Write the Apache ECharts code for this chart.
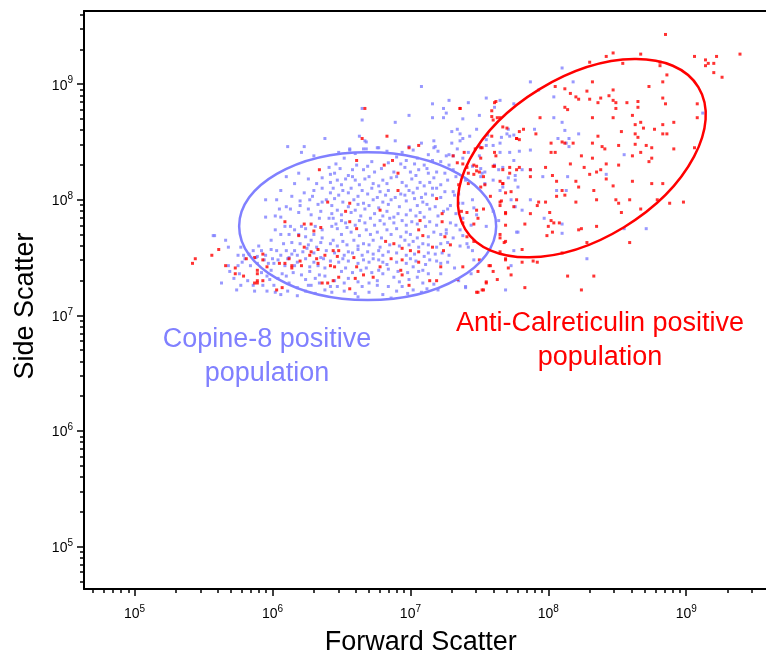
<!DOCTYPE html>
<html>
<head>
<meta charset="utf-8">
<title>Forward vs Side Scatter</title>
<script src="https://cdn.jsdelivr.net/npm/echarts@6/dist/echarts.min.js"></script>
<style>
  html, body { margin: 0; padding: 0; background: #fff; }
  #chart { width: 766px; height: 653px; }
</style>
</head>
<body>
<div id="chart"></div>
<script>
const decades = [5, 6, 7, 8, 9];
const axisMin = 4.633;
const axisMax = 9.633;

// [log10 FSC, log10 SSC]
const copinePoints = [
  [7.08,8.98],[6.65,8.79],[6.65,8.69],[6.99,8.73],[6.89,8.67],[7.16,8.83],[7.24,8.79],[7.26,8.75],[7.28,8.86],[7.42,8.84],
  [7.55,8.88],[7.65,8.86],[7.75,8.83],[7.16,8.71],[7.24,8.71],[7.38,8.70],[7.50,8.73],[7.61,8.80],[7.30,8.59],[7.34,8.61],
  [7.36,8.57],[7.38,8.53],[7.43,8.55],[7.48,8.61],[7.30,8.49],[7.36,8.51],[7.17,8.51],[7.08,8.49],[6.89,8.51],[6.63,8.55],
  [6.67,8.51],[6.66,8.44],[6.77,8.45],[6.56,8.44],[7.71,8.61],[7.75,8.56],[7.55,8.47],[7.17,8.45],
  [6.38,8.53],[7.56,8.56],[7.66,8.54],[7.70,8.57],[6.99,8.46],
  [7.50,8.46],[7.60,8.47],[7.65,8.41],[7.72,8.41],[7.75,8.34],[7.51,8.27],[7.54,8.24],[7.51,8.20],[7.60,8.17],[7.65,8.08],
  [7.76,8.17],[7.60,7.90],[7.64,7.82],[7.77,7.72],[7.55,7.77],[7.75,7.56],[7.73,7.43],[7.69,7.22],[7.41,7.62],[7.45,7.56],
  [8.10,9.14],[7.87,9.02],[7.93,8.95],[8.18,9.02],[8.04,8.89],[8.04,8.71],[8.10,8.67],[7.90,8.61],[8.12,8.60],[8.22,8.57],
  [8.07,8.53],[7.18,8.46],[7.55,8.52],[7.65,8.49],[7.72,8.55],[7.79,8.42],[7.87,8.43],[7.31,8.38],[7.26,8.38],[7.50,8.38],
  [7.61,8.30],[7.67,8.28],[7.64,8.26],[7.71,8.19],[7.76,8.21],[7.81,8.26],[7.87,8.26],[7.96,8.20],[8.14,8.20],[8.42,8.22],
  [8.55,8.39],[8.15,8.53],[7.67,8.11],[7.78,8.11],[7.73,8.00],[7.87,8.00],[7.81,7.91],[7.97,7.84],[8.10,7.79],[8.06,8.08],
  [8.13,8.08],[8.10,7.71],[8.55,7.75],[8.71,7.75],[8.28,7.49],[7.78,7.72],[7.31,8.07],[7.38,7.97],[7.36,7.74],[7.48,7.87],
  [7.42,7.59],[7.40,7.24],[9.12,8.75],[8.13,8.49],[7.16,8.10],[7.46,7.93],[7.38,7.69],[7.26,7.71],[7.23,7.54],[7.52,8.23],
  [7.54,8.14],[7.76,7.94],[8.15,8.46],
  [6.11,8.46],[6.23,8.46],[6.21,8.41],[6.30,8.38],[6.41,8.28],[6.42,8.22],[6.10,8.20],[6.32,8.14],[6.16,8.14],[6.23,8.06],
  [6.30,8.08],[6.36,8.10],[6.42,8.06],[6.29,8.03],[6.27,8.00],[6.36,7.98],[5.95,8.00],[6.03,8.00],[6.10,7.94],[6.13,7.92],
  [6.35,7.90],[5.95,7.85],[6.02,7.86],[6.06,7.85],[6.19,7.89],[6.28,7.87],[6.34,7.84],[6.41,7.84],[6.02,7.74],[6.09,7.77],
  [6.13,7.77],[6.16,7.74],[6.21,7.77],[6.24,7.75],[6.31,7.77],[6.36,7.74],[6.19,7.70],[6.24,7.68],[6.28,7.65],[6.14,7.63],
  [5.99,7.65],[6.20,7.62],[6.32,7.59],[6.42,7.62],[6.39,7.56],[5.58,7.69],[5.66,7.65],[5.68,7.59],[5.77,7.59],[5.86,7.56],
  [5.92,7.56],[5.99,7.57],[6.03,7.56],[6.10,7.56],[6.16,7.56],[6.25,7.58],[5.75,7.52],[5.80,7.49],[5.83,7.53],[5.88,7.50],
  [5.94,7.48],[6.00,7.49],[6.11,7.49],[6.18,7.52],[6.24,7.49],[6.35,7.50],[5.68,7.43],[5.75,7.43],[5.84,7.43],[6.01,7.45],
  [6.09,7.43],[6.16,7.43],[6.27,7.42],[6.33,7.43],[6.38,7.41],[5.69,7.38],[5.76,7.36],[5.92,7.37],[5.99,7.39],[6.07,7.36],
  [6.15,7.37],[6.21,7.35],[6.27,7.38],[6.34,7.35],[5.63,7.28],[5.77,7.26],[5.86,7.26],[5.93,7.26],[5.98,7.31],[6.01,7.26],
  [6.12,7.28],[6.18,7.24],[6.26,7.26],[6.34,7.28],[6.02,7.20],[6.11,7.21],[6.18,7.17],[6.31,7.19],[6.43,7.88],[6.43,7.77],
  [6.42,7.47],[6.42,7.25],[5.87,7.21],[6.43,7.20],[6.37,7.49],[6.12,7.50],[5.89,7.51],[6.28,7.26],[5.57,7.69],[5.79,7.52],
  [6.68,8.50],[6.68,8.44],[6.76,8.45],[6.56,8.43],[6.48,8.41],[6.94,8.41],[7.28,8.39],[7.34,8.44],[7.42,8.41],[6.61,8.30],
  [6.72,8.33],[6.93,8.31],[6.97,8.34],[7.05,8.36],[7.10,8.30],[7.16,8.34],[7.22,8.33],[7.28,8.30],[6.49,8.27],[6.45,8.23],
  [6.55,8.21],[6.66,8.26],[6.74,8.24],[6.88,8.24],[7.00,8.24],[7.06,8.26],[7.13,8.23],[7.19,8.24],[7.25,8.23],[6.47,8.17],
  [6.53,8.18],[6.60,8.17],[6.67,8.18],[6.73,8.14],[6.80,8.17],[6.86,8.19],[6.94,8.15],[7.01,8.18],[7.07,8.15],[7.14,8.15],
  [7.27,8.17],[6.44,8.10],[6.51,8.08],[6.57,8.10],[6.65,8.08],[6.72,8.10],[6.78,8.07],[6.84,8.08],[6.93,8.05],[6.99,8.08],
  [7.05,8.10],[7.11,8.05],[7.19,8.10],[7.25,8.07],[6.45,8.01],[6.51,7.98],[6.59,8.00],[6.66,7.97],[6.73,8.00],[6.80,7.98],
  [6.86,8.00],[6.97,7.99],[7.03,8.01],[7.09,7.98],[7.29,7.95],[6.47,7.91],[6.60,7.91],[6.67,7.92],[6.83,7.90],[6.91,7.88],
  [7.00,7.91],[7.07,7.89],[7.14,7.92],[7.24,7.90],[6.44,7.84],[6.50,7.82],[6.63,7.82],[6.71,7.84],[6.78,7.82],[6.85,7.84],
  [6.94,7.82],[7.01,7.81],[7.14,7.81],[7.29,7.80],[6.47,7.75],[6.54,7.76],[6.68,7.74],[6.76,7.72],[6.83,7.74],[6.90,7.75],
  [6.97,7.72],[7.17,7.72],[7.26,7.74],[6.44,7.65],[6.51,7.64],[6.59,7.65],[6.66,7.62],[6.73,7.65],[6.96,7.65],[7.02,7.64],
  [7.09,7.62],[7.22,7.62],[6.55,7.55],[6.62,7.57],[6.69,7.55],[6.77,7.56],[6.84,7.55],[7.13,7.54],[6.51,7.49],[6.66,7.48],
  [6.73,7.49],[6.80,7.46],[7.00,7.49],[7.14,7.48],[7.22,7.45],[6.53,7.41],[6.68,7.41],[6.84,7.40],[7.02,7.42],[7.09,7.39],
  [7.32,7.41],[6.55,7.32],[6.80,7.36],[6.88,7.33],[7.05,7.33],[6.47,7.25],[6.65,7.25],[6.76,7.26],[6.84,7.25],[6.94,7.25],
  [7.02,7.22],[7.12,7.23],[7.40,7.25],
  [6.52,8.36],[6.60,8.40],[6.83,8.42],[6.90,8.37],[7.02,8.43],[7.13,8.39],[7.20,8.42],[7.38,8.36],
  [6.46,8.31],[6.58,8.26],[6.69,8.29],[6.79,8.27],[6.84,8.32],[6.96,8.28],[7.03,8.31],[7.12,8.27],[7.31,8.26],[7.45,8.29],
  [6.42,8.15],[6.50,8.13],[6.58,8.20],[6.63,8.13],[6.70,8.20],[6.77,8.12],[6.83,8.14],[6.90,8.20],[6.97,8.12],[7.04,8.21],
  [7.10,8.12],[7.17,8.19],[7.22,8.13],[7.33,8.20],[7.40,8.17],
  [6.48,8.04],[6.55,8.06],[6.62,8.03],[6.69,8.05],[6.76,8.02],[6.82,8.04],[6.89,8.02],[6.96,8.04],[7.02,8.06],[7.08,8.02],
  [7.16,8.04],[7.22,8.02],[7.32,8.04],
  [6.43,7.95],[6.55,7.94],[6.62,7.96],[6.70,7.95],[6.77,7.93],[6.84,7.96],[6.92,7.94],[7.05,7.95],[7.12,7.96],[7.18,7.94],
  [7.27,7.92],[7.35,7.97],
  [6.50,7.87],[6.57,7.89],[6.64,7.86],[6.74,7.88],[6.80,7.86],[6.88,7.85],[6.97,7.87],[7.04,7.86],[7.10,7.85],[7.20,7.86],
  [7.33,7.88],
  [6.46,7.79],[6.53,7.80],[6.60,7.78],[6.67,7.80],[6.74,7.78],[6.81,7.79],[6.88,7.80],[6.97,7.78],[7.05,7.79],[7.11,7.77],
  [7.19,7.78],[7.33,7.78],
  [6.50,7.70],[6.57,7.72],[6.63,7.69],[6.71,7.70],[6.79,7.67],[6.86,7.70],[6.93,7.68],[7.00,7.70],[7.05,7.67],[7.13,7.68],
  [7.22,7.70],[7.31,7.67],
  [6.47,7.60],[6.54,7.61],[6.62,7.60],[6.70,7.61],[6.78,7.59],[6.85,7.61],[6.92,7.60],[6.99,7.61],[7.06,7.59],[7.13,7.61],
  [7.19,7.59],[7.27,7.63],
  [6.45,7.54],[6.52,7.52],[6.58,7.54],[6.65,7.52],[6.73,7.53],[6.80,7.52],[6.90,7.54],[6.97,7.52],[7.03,7.53],[7.10,7.51],
  [7.18,7.53],[7.28,7.52],
  [6.48,7.46],[6.55,7.47],[6.62,7.45],[6.70,7.46],[6.77,7.48],[6.83,7.44],[6.90,7.46],[6.97,7.45],[7.04,7.47],[7.11,7.44],
  [7.19,7.47],[7.27,7.46],
  [6.50,7.38],[6.58,7.37],[6.64,7.39],[6.72,7.37],[6.77,7.39],[6.91,7.38],[6.98,7.37],[7.06,7.38],[7.13,7.36],[7.22,7.36],
  [6.45,7.30],[6.52,7.28],[6.62,7.29],[6.70,7.28],[6.76,7.30],[6.92,7.29],[6.99,7.31],[7.09,7.28],[7.17,7.27],
  [6.52,7.21],[6.60,7.19],[6.70,7.20],[6.80,7.18],[6.90,7.21],[6.98,7.19],[7.08,7.20],[7.20,7.22],[6.62,7.16],[6.86,7.15],
  [6.05,7.92],[6.20,7.95],[6.26,7.92],[6.33,7.96],[6.39,8.00],[6.06,7.70],[6.12,7.70],[6.30,7.70],[6.36,7.67],[6.08,7.62],
  [6.26,7.61],[6.35,7.63],[5.90,7.60],[5.95,7.52],[6.06,7.52],[6.14,7.53],[6.22,7.55],[6.30,7.54],[5.78,7.46],[5.89,7.45],
  [5.97,7.45],[6.04,7.48],[6.18,7.46],[6.30,7.46],[5.72,7.32],[5.82,7.30],[5.96,7.34],[6.04,7.32],[6.10,7.34],[6.24,7.31],
  [6.31,7.32],[6.38,7.34],[5.96,7.21],[6.06,7.18],[6.24,7.21],[6.38,7.22],[5.74,7.22],[6.14,8.03],[6.20,7.99],[6.06,8.08],
  [6.19,8.23],[6.26,8.18],[6.36,8.19],
  [7.35,8.05],[7.45,8.00],[7.38,7.84],[7.44,7.78],[7.36,7.60],[7.46,7.48],[7.35,7.30],[7.44,7.36]
];

const calretPoints = [
  [8.85,9.43],[8.47,9.27],[8.42,9.24],[8.67,9.26],[8.54,9.18],[8.30,9.19],[9.06,9.24],[9.14,9.21],[9.22,9.24],[9.39,9.26],
  [9.16,9.18],[9.20,9.18],[9.14,9.16],[9.20,9.10],[9.26,9.06],[8.81,9.19],[8.81,9.16],[8.86,9.08],[8.83,9.02],[8.73,8.98],
  [8.32,9.02],[8.05,8.98],[8.12,8.96],[8.16,8.92],[8.20,8.89],[8.22,8.87],[8.28,8.94],[8.30,8.87],[8.38,8.88],[8.44,8.90],
  [8.47,8.86],[8.49,8.84],[8.36,8.84],[8.57,8.84],[8.65,8.85],[8.65,8.80],[8.83,8.88],[8.85,8.83],[9.08,8.83],[9.08,8.71],
  [8.61,8.73],[8.47,8.71],[8.32,8.71],[8.12,8.80],[8.14,8.78],[7.94,8.71],[7.67,8.63],[7.82,8.61],[7.79,8.59],[7.77,8.53],
  [7.79,8.52],[7.59,8.55],[7.60,8.69],[7.59,8.77],[7.62,8.85],[7.65,8.71],[7.91,8.57],[8.02,8.49],[8.02,8.41],[8.12,8.49],
  [8.18,8.49],[8.32,8.49],[8.39,8.46],[8.41,8.44],[8.51,8.47],[8.53,8.59],[8.63,8.65],[8.67,8.67],[8.69,8.62],[8.77,8.61],
  [8.83,8.65],[8.83,8.57],[8.86,8.57],[8.91,8.67],[8.63,8.57],[8.65,8.54],[8.63,8.48],[8.71,8.47],[8.75,8.45],[8.67,8.41],
  [8.61,8.38],[8.91,8.44],[9.06,8.45],[8.75,8.36],[8.73,8.33],[8.51,8.30],[8.42,8.31],[8.32,8.36],[8.24,8.38],[8.16,8.31],
  [8.26,8.28],[8.30,8.22],[8.35,8.24],[8.38,8.26],[8.42,8.18],[8.47,8.12],[8.61,8.16],[8.75,8.14],[8.83,8.14],[8.79,8.00],
  [8.88,7.97],[8.98,7.98],[8.67,7.92],[8.59,8.00],[8.51,7.97],[8.49,8.00],[8.53,7.89],[8.59,7.63],[8.35,7.77],[8.35,8.00],
  [8.33,8.08],[8.20,7.98],[8.22,7.74],[8.24,7.75],[8.22,8.11],[8.20,8.16],[8.12,8.04],[8.10,8.08],[8.06,8.03],[8.08,7.80],
  [7.98,8.28],[7.98,7.98],[8.01,7.89],[8.02,7.82],[8.04,7.80],[8.00,7.77],[7.99,7.69],[8.03,7.72],[7.87,7.88],[7.87,8.26],
  [7.93,7.98],[7.92,7.95],[7.83,7.79],[7.77,8.00],[7.69,7.89],[7.67,8.14],[7.69,8.06],[7.65,7.98],[7.65,7.95],[7.87,8.20],
  [7.72,8.23],[7.77,8.26],[7.61,8.29],[7.67,8.26],[7.53,8.20],[7.50,8.24],[7.48,8.29],[7.51,8.36],[7.47,8.44],[7.51,8.45],
  [7.46,8.30],[7.46,8.22],[7.51,8.11],[7.54,8.13],[7.41,7.89],[7.48,7.91],[7.53,7.92],[7.49,7.84],[7.46,7.79],[7.38,7.80],
  [7.41,7.68],[7.46,7.64],[7.65,7.67],[7.68,7.63],[7.65,7.55],[7.69,7.48],[7.71,7.41],[7.73,7.35],[7.63,7.31],[7.57,7.43],
  [7.49,7.38],[7.50,7.48],[7.55,7.28],[7.52,7.22],[7.49,7.20],[7.83,7.24],[7.81,7.46],[7.89,7.47],[7.92,7.46],[8.14,7.34],
  [8.33,7.34],[8.24,7.22],[8.10,7.54],[8.28,7.63],[7.81,7.57],[7.36,8.79],[7.39,8.41],[7.41,8.28],[7.59,8.72],[7.70,8.62],
  [7.79,8.28],[7.61,8.41],[7.65,8.16],[8.05,8.41],[8.10,8.50],[8.03,8.21],[8.06,8.16],[8.47,8.95],[8.49,8.79],[8.36,8.55],
  [6.67,8.79],[6.65,8.53],[6.83,8.55],[6.99,8.45],[7.06,8.47],[7.36,8.79],[7.61,8.84],[7.63,8.71],[7.77,8.53],[7.52,8.45],
  [6.34,8.26],[6.40,7.98],[6.09,7.81],[6.23,7.79],[6.28,7.79],[6.30,7.73],[6.35,7.76],[6.19,7.69],[6.23,7.59],[6.27,7.52],
  [6.32,7.49],[6.38,7.52],[5.61,7.57],[5.44,7.49],[5.42,7.45],[5.56,7.52],[5.66,7.43],[5.73,7.41],[5.73,7.36],[5.79,7.34],
  [5.89,7.36],[5.81,7.49],[5.87,7.50],[5.93,7.53],[5.96,7.42],[6.05,7.45],[6.09,7.45],[6.14,7.43],[6.12,7.49],[6.20,7.47],
  [6.14,7.41],[6.21,7.43],[6.33,7.45],[5.89,7.30],[5.93,7.30],[6.03,7.22],[6.07,7.24],[6.36,7.28],[6.40,7.28],[6.44,7.56],
  [6.42,7.43],[6.44,7.30],[5.93,7.48],[5.89,7.28],[6.33,7.57],[6.28,7.55],[5.87,7.28],[5.89,7.39],
  [7.31,8.38],[6.61,8.34],[6.81,8.30],[6.87,8.34],[7.34,8.32],[7.38,8.31],[7.42,8.23],[7.48,8.25],[6.91,8.23],[7.35,8.13],
  [7.42,8.14],[6.91,8.08],[6.56,7.97],[7.37,7.90],[7.19,8.01],[6.53,7.90],[6.78,7.91],[7.23,7.88],[6.56,7.81],[7.07,7.82],
  [7.23,7.81],[6.61,7.75],[7.06,7.74],[7.09,7.69],[7.25,7.68],[6.82,7.64],[6.88,7.62],[7.16,7.59],[7.29,7.61],[6.48,7.56],
  [6.94,7.58],[7.00,7.56],[7.06,7.55],[7.24,7.56],[6.47,7.51],[6.59,7.50],[6.86,7.49],[6.94,7.48],[7.06,7.46],[6.45,7.42],
  [6.61,7.42],[6.78,7.42],[6.93,7.39],[7.22,7.42],[6.48,7.33],[6.60,7.32],[6.66,7.35],[6.73,7.33],[6.94,7.35],[6.99,7.26],
  [7.14,7.30],[7.19,7.30],[7.34,7.31],[6.56,7.23],[7.48,7.20],
  [7.62,8.38],[7.72,8.28],[7.60,8.29],[7.67,8.14],[7.73,8.07],[7.58,8.03],[7.66,7.99],[7.69,7.88],[7.75,7.94],[7.69,7.78],
  [7.65,7.70],[7.69,7.64],[7.69,7.49],[7.58,7.43],[7.60,7.38],[7.55,7.29],[7.53,7.22],[7.38,7.42]
];

// gates: centre [log10 FSC, log10 SSC], semi-axes in decades (x scale, y scale), tilt in degrees
const copineGate = [6.69, 7.772, 0.932, 0.64, 0];
const calretGate = [8.243, 8.36, 0.99, 0.70, 31.4];

const blue = '#8080ff';
const red = '#ff0000';
const font = '"Liberation Sans", Arial, sans-serif';

const minorTicks = [];
for (let d = 4; d <= 9; d++) {
  for (let k = 2; k <= 9; k++) {
    const v = d + Math.log10(k);
    if (v > axisMin && v < axisMax) minorTicks.push(v);
  }
}

const powLabel = {
  customValues: decades,
  formatter: v => '{b|10}{s|' + v + '}',
  rich: {
    b: { fontSize: 14, lineHeight: 17, fontFamily: font, color: '#000', verticalAlign: 'bottom' },
    s: { fontSize: 10, lineHeight: 10, fontFamily: font, color: '#000', verticalAlign: 'top' }
  }
};

const lineStyle = { color: '#000', width: 2 };
const tickStyle = { color: '#000', width: 1.5 };
const nameFont = { fontSize: 27, fontFamily: font, color: '#000' };

function gateSeries(gate, color) {
  return {
    type: 'custom',
    coordinateSystem: 'cartesian2d',
    silent: true,
    z: 5,
    data: [gate],
    encode: { x: 0, y: 1 },
    renderItem: function (params, api) {
      const c = api.coord([api.value(0), api.value(1)]);
      const rx = api.size([api.value(2), 0])[0];
      const ry = api.size([0, api.value(3)])[1];
      return {
        type: 'ellipse',
        x: c[0],
        y: c[1],
        rotation: api.value(4) * Math.PI / 180,
        shape: { cx: 0, cy: 0, rx: rx, ry: ry },
        style: { fill: 'none', stroke: color, lineWidth: 2.5 }
      };
    }
  };
}

const chart = echarts.init(document.getElementById('chart'));
chart.setOption({
  animation: false,
  backgroundColor: '#fff',
  grid: { left: 84, top: 11, right: -7.5, bottom: 64, outerBoundsMode: 'none', containLabel: false },
  xAxis: [
    {
      type: 'value', min: axisMin, max: axisMax, position: 'bottom',
      name: 'Forward Scatter', nameLocation: 'middle', nameGap: 40,
      nameTextStyle: Object.assign({ padding: [0, 16, 0, 0] }, nameFont),
      axisLine: { onZero: false, lineStyle: lineStyle },
      axisTick: { customValues: decades, length: 7, lineStyle: tickStyle },
      axisLabel: Object.assign({ margin: 15 }, powLabel),
      splitLine: { show: false }
    },
    {
      type: 'value', min: axisMin, max: axisMax, position: 'bottom',
      axisLine: { show: false },
      axisTick: { customValues: minorTicks, length: 4, lineStyle: tickStyle },
      axisLabel: { show: false },
      splitLine: { show: false }
    },
    {
      type: 'value', min: axisMin, max: axisMax, position: 'top',
      axisLine: { onZero: false, lineStyle: lineStyle },
      axisTick: { show: false },
      axisLabel: { show: false },
      splitLine: { show: false }
    }
  ],
  yAxis: [
    {
      type: 'value', min: axisMin, max: axisMax, position: 'left',
      name: 'Side Scatter', nameLocation: 'middle', nameGap: 45,
      nameTextStyle: Object.assign({ padding: [0, 12, 0, 0] }, nameFont),
      axisLine: { onZero: false, lineStyle: lineStyle },
      axisTick: { customValues: decades, length: 7, lineStyle: tickStyle },
      axisLabel: Object.assign({ margin: 11 }, powLabel),
      splitLine: { show: false }
    },
    {
      type: 'value', min: axisMin, max: axisMax, position: 'left',
      axisLine: { show: false },
      axisTick: { customValues: minorTicks, length: 4, lineStyle: tickStyle },
      axisLabel: { show: false },
      splitLine: { show: false }
    }
  ],
  series: [
    {
      name: 'Copine-8', type: 'scatter', data: copinePoints,
      symbol: 'rect', symbolSize: 3, silent: true,
      itemStyle: { color: blue }
    },
    {
      name: 'Anti-Calreticulin', type: 'scatter', data: calretPoints,
      symbol: 'rect', symbolSize: 3, silent: true,
      itemStyle: { color: red }
    },
    gateSeries(copineGate, blue),
    gateSeries(calretGate, red)
  ],
  graphic: [
    {
      type: 'text', x: 267, y: 323, silent: true,
      style: {
        text: 'Copine-8 positive\npopulation', fill: blue,
        fontSize: 27, fontFamily: font, lineHeight: 34,
        align: 'center', verticalAlign: 'top', textAlign: 'center', textVerticalAlign: 'top'
      }
    },
    {
      type: 'text', x: 600, y: 307, silent: true,
      style: {
        text: 'Anti-Calreticulin positive\npopulation', fill: red,
        fontSize: 27, fontFamily: font, lineHeight: 34,
        align: 'center', verticalAlign: 'top', textAlign: 'center', textVerticalAlign: 'top'
      }
    }
  ]
});
</script>
</body>
</html>
